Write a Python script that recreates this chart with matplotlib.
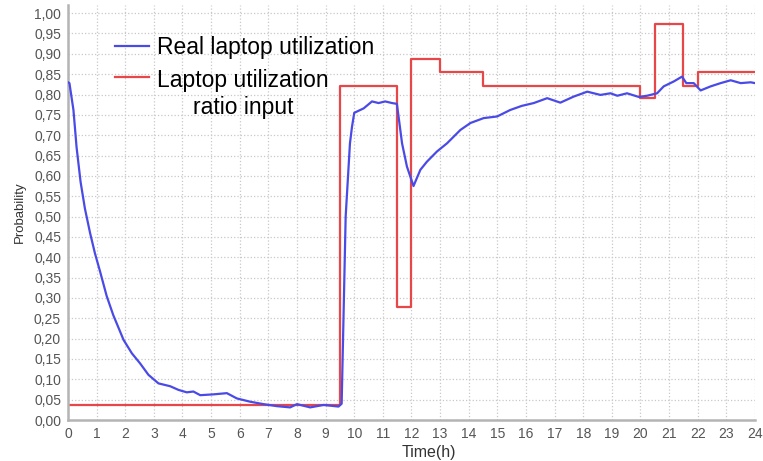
import matplotlib.pyplot as plt
from matplotlib.ticker import FuncFormatter, MultipleLocator

# real laptop utilization (blue)
real_t = [0, 0.05, 0.19, 0.30, 0.44, 0.59, 0.77, 0.94, 1.12, 1.35, 1.58, 1.94,
          2.23, 2.52, 2.81, 3.16, 3.57, 3.86, 4.15, 4.38, 4.62, 5.08, 5.55, 5.9,
          6.36, 6.83, 7.3, 7.76, 8.0, 8.46, 8.93, 9.45, 9.56, 9.7, 9.85, 9.92,
          10.0, 10.33, 10.62, 10.85, 11.08, 11.32, 11.49, 11.67, 11.84, 12.07,
          12.31, 12.54, 12.89, 13.24, 13.71, 14.06, 14.52, 14.99, 15.45, 15.85,
          16.27, 16.74, 17.2, 17.67, 18.14, 18.6, 18.95, 19.19, 19.53, 19.94,
          20.23, 20.58, 20.81, 21.16, 21.45, 21.6, 21.86, 22.1, 22.45, 22.8,
          23.15, 23.5, 23.85, 24.0]
real_val = [0.83, 0.828, 0.762, 0.67, 0.585, 0.52, 0.46, 0.41, 0.365, 0.305,
            0.258, 0.197, 0.164, 0.139, 0.111, 0.090, 0.083, 0.074, 0.068, 0.070,
            0.061, 0.063, 0.066, 0.053, 0.045, 0.039, 0.034, 0.031, 0.039, 0.031,
            0.037, 0.033, 0.04, 0.50, 0.68, 0.72, 0.755, 0.766, 0.783, 0.779,
            0.783, 0.779, 0.777, 0.68, 0.623, 0.575, 0.615, 0.635, 0.66, 0.68,
            0.713, 0.73, 0.742, 0.746, 0.762, 0.772, 0.779, 0.791, 0.780, 0.795,
            0.807, 0.799, 0.803, 0.797, 0.803, 0.794, 0.797, 0.803, 0.820, 0.832,
            0.844, 0.828, 0.828, 0.810, 0.820, 0.828, 0.835, 0.828, 0.830, 0.828]

# utilization ratio input (red step function)
input_t = [0, 9.5, 11.5, 12.0, 13.0, 14.5, 20.0, 20.5, 21.5, 22.0, 24.0]
input_val = [0.038, 0.821, 0.278, 0.888, 0.855, 0.821, 0.792, 0.974, 0.82, 0.855, 0.855]

fig = plt.figure(figsize=(7.63, 4.61), dpi=100)
ax = fig.add_axes([68 / 763, 41 / 461, 687 / 763, 415 / 461])
plt.rcParams["font.family"] = ["Liberation Sans", "DejaVu Sans"]

ax.plot(real_t, real_val, color="#4a4ae6", linewidth=1.6, label="Real laptop utilization", zorder=3)
ax.step(input_t, input_val, where="post", color="#e8474a", linewidth=1.6,
        label="Laptop utilization\nratio input", zorder=2)

ax.set_xlim(0, 24)
ax.set_ylim(0, 1.02)
ax.xaxis.set_major_locator(MultipleLocator(1))
ax.yaxis.set_major_locator(MultipleLocator(0.05))
ax.yaxis.set_major_formatter(FuncFormatter(lambda v, _: f"{v:.2f}".replace(".", ",")))
ax.tick_params(length=0, pad=5, labelsize=10, labelcolor="#555555")
for lab in ax.get_xticklabels() + ax.get_yticklabels():
    lab.set_family("Liberation Sans")

ax.grid(True, color="#c8c8c8", linestyle=":", linewidth=0.9)
ax.set_axisbelow(True)
for side in ["top", "right"]:
    ax.spines[side].set_visible(False)
for side in ["left", "bottom"]:
    ax.spines[side].set_color("#b4b4b4")
    ax.spines[side].set_linewidth(1.8)

ax.set_xlabel("Time(h)", fontsize=11.5, family="Liberation Sans", color="#333333", x=0.526, labelpad=3)
ax.set_ylabel("Probability", fontsize=9.5, family="Liberation Sans", color="#333333", labelpad=6)

leg = ax.legend(loc="upper left", bbox_to_anchor=(0.055, 0.948), frameon=False,
                prop={"family": "Liberation Sans", "size": 16.5},
                handlelength=1.5, handletextpad=0.35, labelspacing=0.45, borderaxespad=0)
leg.get_texts()[1].set_multialignment("center")
# keep the red handle level with the first line of its two-line label
red_handle = leg.legend_handles[1]
red_handle.set_ydata([y + 13 for y in red_handle.get_ydata()])

fig.savefig("out.png", dpi=100)
